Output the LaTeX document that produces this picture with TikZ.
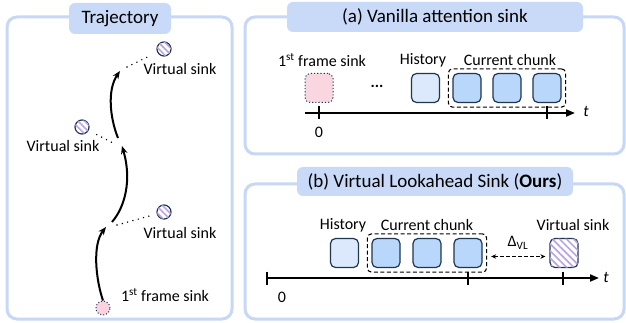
\documentclass[tikz,border=0pt]{standalone}
\usepackage{fontspec}
\setmainfont{Carlito}
\usetikzlibrary{arrows.meta,patterns.meta,fit,calc}
\definecolor{framec}{HTML}{C6D8F5}
\definecolor{titlec}{HTML}{C9DAF8}
\definecolor{bordc}{HTML}{1F3550}
\definecolor{histc}{HTML}{DCE9FC}
\definecolor{curc}{HTML}{B9D7FA}
\definecolor{pinkc}{HTML}{FAD3DE}
\definecolor{stripec}{HTML}{B8A7E3}
\begin{document}
\begin{tikzpicture}[x=1pt,y=-1pt,
  frame/.style={draw=framec, line width=3pt, rounded corners=10pt},
  ttl/.style={fill=titlec, rounded corners=6pt, font=\fontsize{19}{22}\selectfont, inner sep=0pt},
  lbl/.style={font=\fontsize{16}{19}\selectfont, inner sep=0pt},
  sq/.style={draw=bordc, line width=1.2pt, rounded corners=5pt, minimum width=28pt, minimum height=29pt, inner sep=0pt},
  hist/.style={sq, fill=histc},
  cur/.style={sq, fill=curc},
  pinkbox/.style={sq, draw=bordc, dotted, line width=1pt, fill=pinkc, postaction={pattern={Dots[distance=2pt,radius=0.35pt]}, pattern color=white}},
  vsbox/.style={sq, fill=white, postaction={pattern={Lines[angle=-45,distance=5pt,line width=1.7pt]}, pattern color=stripec}},
  vsc/.style={circle, draw=bordc, line width=1.2pt, minimum size=14pt, inner sep=0pt, fill=white, postaction={pattern={Lines[angle=-45,distance=4.5pt,line width=1.6pt]}, pattern color=stripec}},
  pinkc/.style={circle, draw=bordc, dotted, line width=1pt, minimum size=14pt, inner sep=0pt, fill=pinkc},
  chunk/.style={draw=black, dashed, line width=1.1pt, dash pattern=on 4pt off 2.5pt, rounded corners=4pt, inner sep=4pt},
  traj/.style={line width=2pt, -{Stealth[length=8pt,width=6.5pt]}},
  dotl/.style={line width=1.6pt, line cap=round, dash pattern=on 0pt off 5.5pt},
  axis/.style={line width=2pt, -{Triangle[length=9pt,width=7pt]}},
  tickm/.style={line width=2.5pt},
  darrow/.style={line width=1.3pt, dash pattern=on 3.5pt off 2.5pt, {Stealth[length=5pt,width=4.5pt]}-{Stealth[length=5pt,width=4.5pt]}}
]
\useasboundingbox (0,0) rectangle (626,323);

% ---------- frames ----------
\draw[frame] (7,17) rectangle (232,319);
\draw[frame] (245,17) rectangle (624,154);
\draw[frame] (245,184) rectangle (624,319);

\node[ttl, minimum width=102pt, minimum height=31pt] (tt) at (120,18.5) {Trajectory};
\node[ttl, minimum width=296pt, minimum height=30pt] (ta) at (435,17) {(a) Vanilla attention sink};
\node[ttl, minimum width=276pt, minimum height=29pt] (tb) at (435,181.5) {(b) Virtual Lookahead Sink (\textbf{Ours})};

% ---------- trajectory ----------
\node[pinkc] (p0) at (103,308) {};
\node[vsc] (v1) at (164,212) {};
\node[vsc] (v2) at (82,127) {};
\node[vsc] (v3) at (164,49) {};
\coordinate (k1) at (106,227);
\coordinate (s2) at (112,222);
\coordinate (k2) at (122,146);
\coordinate (s3) at (118,138);
\coordinate (k3) at (120,71);
\draw[traj] (p0.north) .. controls (96,280) and (92,245) .. (k1);
\draw[traj] (s2) .. controls (125,207) and (132,180) .. (k2);
\draw[traj] (s3) .. controls (110,118) and (107,90) .. (k3);
\coordinate (d1) at (117,225);
\coordinate (d2) at (113,143);
\coordinate (d3) at (127,67);
\draw[dotl, shorten >=3pt] (d1) -- (v1);
\draw[dotl, shorten <=9pt] (v2) -- (d2);
\draw[dotl, shorten >=9pt] (d3) -- (v3);
\node[lbl] (l3) at (180,69) {Virtual sink};
\node[lbl] (l2) at (63,146) {Virtual sink};
\node[lbl] (l1) at (180,233) {Virtual sink};
\node[lbl] (l0) at (165,295) {1\textsuperscript{st} frame sink};

% ---------- panel (a) ----------
\node[pinkbox] (fa) at (319,88) {};
\node[lbl] (dots) at (377,86) {\textbf{...}};
\node[hist] (ha) at (425.5,88) {};
\node[cur] (a1) at (467,88) {};
\node[cur] (a2) at (507,88) {};
\node[cur] (a3) at (547,88) {};
\node[chunk, fit=(a1)(a3)] (cha) {};
\node[lbl] (lfa) at (322,60) {1\textsuperscript{st} frame sink};
\node[lbl] (lha) at (423,60) {History};
\node[lbl] (lca) at (510,60) {Current chunk};
\coordinate (as) at (305,113);
\coordinate (ae) at (575,113);
\draw[axis] (as) -- (ae);
\draw[tickm] (319,106.5) -- (319,119.5);
\draw[tickm] (547,106.5) -- (547,119.5);
\node[lbl] (za) at (319,132) {0};
\node[lbl] (tA) at (586,112) {\itshape t};

% ---------- panel (b) ----------
\node[hist] (hb) at (344.5,253) {};
\node[cur] (b1) at (386,253) {};
\node[cur] (b2) at (427,253) {};
\node[cur] (b3) at (468,253) {};
\node[chunk, fit=(b1)(b3)] (chb) {};
\node[vsbox] (vb) at (564,253) {};
\node[lbl] (lhb) at (343,225) {History};
\node[lbl] (lcb) at (427,225) {Current chunk};
\node[lbl] (lvb) at (573,225) {Virtual sink};
\draw[darrow, shorten <=4pt, shorten >=4pt] ([yshift=-3.5pt]chb.east) -- ([yshift=-3.5pt]vb.west);
\node[lbl] (dl) at (518,243) {Δ\textsubscript{VL}};
\coordinate (bs) at (267,278);
\coordinate (be) at (599,278);
\draw[axis] (bs) -- (be);
\draw[tickm] (267,271.5) -- (267,284.5);
\draw[tickm] (468,271.5) -- (468,284.5);
\draw[tickm] (563,271.5) -- (563,284.5);
\node[lbl] (zb) at (282,297) {0};
\node[lbl] (tB) at (606,277) {\itshape t};
\end{tikzpicture}
\end{document}
